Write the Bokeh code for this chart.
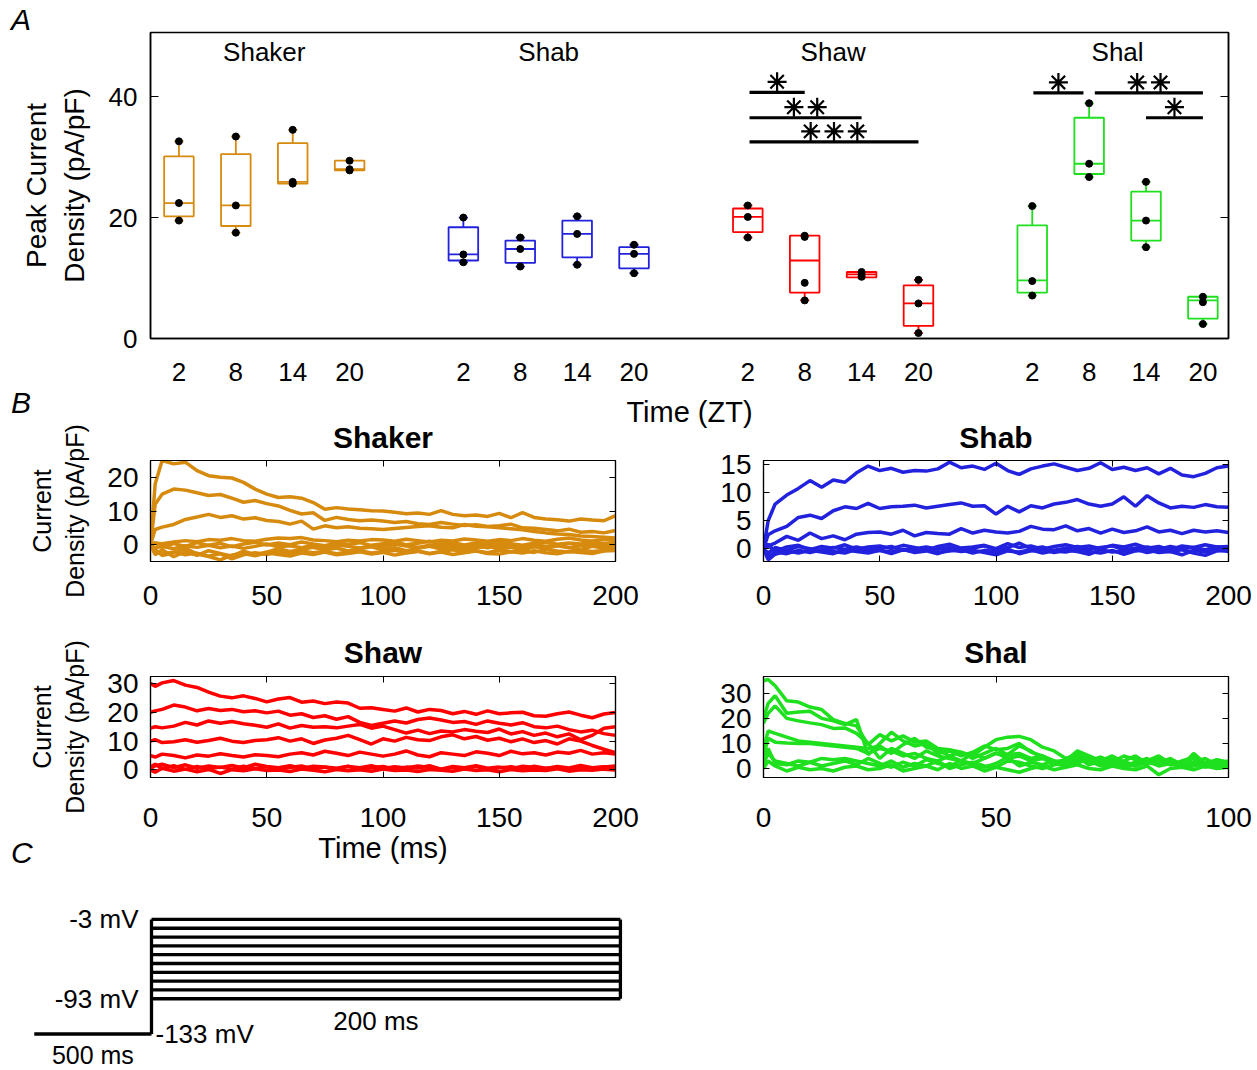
from bokeh.plotting import figure
from bokeh.models import Range1d, FixedTicker, LinearAxis, ColumnDataSource, Div, Spacer
from bokeh.layouts import column, row
from bokeh.embed import file_html
from bokeh.resources import INLINE
from bokeh.core.properties import value

FONT = "Liberation Sans"
INK = "black"

# ---------------- Panel A data ----------------
CHANNELS = ["Shaker", "Shab", "Shaw", "Shal"]
ZT_LABELS = ["2", "8", "14", "20"]
COLORS = {"Shaker": "#D68A0E", "Shab": "#2222DE", "Shaw": "#FF0000", "Shal": "#1EE01E"}

# box stats per ZT (2, 8, 14, 20): [whisker low, q1, median, q3, whisker high]
BOX_SHAKER = [[19.5, 20.2, 22.4, 30.1, 32.6], [17.5, 18.6, 22.0, 30.5, 33.4],
              [25.6, 25.6, 25.9, 32.3, 34.5], [27.8, 27.8, 28.0, 29.4, 29.4]]
BOX_SHAB = [[12.6, 12.9, 13.9, 18.4, 20.0], [11.9, 12.5, 14.8, 16.2, 16.7],
            [12.2, 13.4, 17.3, 19.5, 20.2], [10.8, 11.6, 14.0, 15.1, 15.5]]
BOX_SHAW = [[16.7, 17.6, 20.1, 21.5, 22.0], [6.3, 7.6, 12.9, 17.0, 17.0],
            [10.1, 10.1, 10.6, 11.0, 11.0], [0.9, 2.1, 5.8, 8.8, 9.7]]
BOX_SHAL = [[7.1, 7.6, 9.6, 18.7, 21.9], [26.7, 27.2, 28.9, 36.5, 38.9],
            [15.1, 16.2, 19.5, 24.3, 25.9], [2.4, 3.3, 6.3, 6.9, 6.9]]

PTS_SHAKER = [[32.6, 22.4, 19.5], [33.4, 22.0, 17.5], [34.5, 25.9, 25.6], [29.4, 28.0, 27.8]]
PTS_SHAB = [[20.0, 13.9, 12.6], [16.7, 14.8, 11.9], [20.2, 17.3, 12.2], [15.5, 14.0, 10.8]]
PTS_SHAW = [[22.0, 20.1, 16.7], [17.0, 16.8, 9.2, 6.3], [11.0, 10.6, 10.2], [9.7, 5.8, 0.9]]
PTS_SHAL = [[21.9, 9.5, 7.1], [38.9, 28.9, 26.7], [25.9, 19.5, 15.1], [6.9, 6.0, 2.4]]

# significance bars (x in box positions)
SIG_X0 = [11.03, 11.03, 11.03, 16.02, 17.1, 18.0]
SIG_X1 = [12.0, 13.0, 14.0, 16.9, 19.0, 19.0]
SIG_Y = [40.7, 36.5, 32.5, 40.6, 40.6, 36.5]
SIG_STARS = [1, 2, 3, 1, 2, 1]

# ---------------- Panel B data ----------------
T200 = [0, 2] + list(range(5, 201, 5))
T100 = [0, 1] + [2.5 * k for k in range(1, 41)]

SHAKER_TRACES = [
    [0, 18, 25, 24, 24.5, 22, 20.5, 20, 19.8, 18.5, 16.5, 15, 14, 14.2, 13.8, 12.5, 10.5, 11, 10.6, 10.4, 10.1, 10, 9.6, 9.2, 9.4, 9.0, 10.1, 9.0, 8.6, 8.8, 8.4, 9.3, 8.0, 9.5, 8.1, 7.6, 7.4, 7.0, 7.6, 7.3, 7.1, 8.6],
    [0, 12, 15, 16.5, 16.2, 15.4, 14.6, 14.9, 13.8, 12.6, 13.1, 12.2, 11.5, 10.2, 9.1, 9.5, 7.2, 8.1, 7.5, 7.1, 7.3, 7.0, 6.6, 6.9, 6.2, 6.0, 6.6, 6.1, 5.7, 5.9, 5.4, 5.6, 6.1, 5.0, 4.9, 4.5, 4.1, 4.6, 3.7, 3.9, 3.5, 4.2],
    [0, 4.5, 5.2, 6.0, 7.5, 8.2, 9.0, 8.1, 8.6, 7.6, 8.0, 7.2, 6.9, 6.1, 7.0, 4.6, 5.6, 5.0, 5.3, 4.9, 4.7, 4.5, 4.8, 5.1, 5.4, 5.6, 5.2, 5.0, 6.0, 5.5, 5.3, 5.0, 4.7, 4.4, 3.9, 3.5, 3.2, 3.0, 2.6, 2.4, 2.2, 2.0],
    [0, 0.5, 0.3, 0.8, 1.2, 0.9, 1.5, 1.3, 1.8, 1.2, 1.0, 1.6, 2.0, 1.8, 2.1, 1.4, 1.2, 0.9, 1.3, 1.1, 1.5, 1.4, 1.0, 1.6, 1.2, 0.8, 1.3, 1.1, 1.7, 1.4, 1.0, 1.5, 1.2, 1.8, 1.3, 1.0, 1.6, 2.0, 1.4, 1.1, 1.5, 1.2],
    [0, -1.0, -0.5, -1.2, -0.3, -0.8, -0.2, -0.9, -0.4, -1.1, -0.5, 0.2, -0.6, -0.3, -0.9, -0.2, -0.7, -0.1, -0.5, -1.0, -0.3, -0.6, 0.1, -0.4, -0.8, -0.2, -0.5, 0.2, -0.6, -0.3, -0.9, -0.1, -0.4, -0.7, 0.0, -0.5, -0.2, -0.8, -0.3, 0.1, -0.4, -0.2],
    [0, -2.0, -2.8, -2.2, -3.0, -2.5, -3.4, -2.7, -4.2, -3.0, -2.4, -2.9, -2.2, -2.6, -1.9, -2.4, -2.0, -2.7, -2.2, -1.8, -2.5, -2.1, -1.7, -2.3, -1.9, -2.6, -2.0, -1.5, -2.2, -1.8, -2.4, -1.6, -2.1, -1.8, -2.3, -1.4, -1.9, -2.2, -1.6, -2.0, -1.7, -1.3],
    [0, -3.0, -1.5, -3.6, -2.0, -3.2, -1.8, -2.6, -3.4, -1.9, -3.0, -2.2, -1.2, -2.0, -1.4, -0.8, -1.6, -1.0, -1.9, -1.2, -0.6, -1.5, -0.9, -1.8, -1.1, -0.5, -1.3, -0.7, -1.6, -1.0, -0.4, -1.2, -0.8, -1.5, -0.6, -1.1, -0.3, -0.9, -1.4, -0.5, -1.0, -0.6],
    [0, 0.5, -0.8, 0.3, -0.5, 0.6, -0.2, 0.4, -0.6, 0.2, 0.7, -0.1, 0.5, 0.0, 0.8, 0.2, -0.3, 0.5, 0.1, 0.6, -0.2, 0.3, 0.7, 0.0, 0.4, 1.0, 0.2, 0.6, -0.1, 0.5, 0.1, 0.7, 0.3, -0.2, 0.4, 0.8, 0.1, 0.5, 0.2, 0.9, 0.3, 0.6],
    [0, -1.5, -3.2, -2.4, -1.0, -2.8, -3.5, -4.5, -3.1, -2.6, -3.3, -2.4, -2.9, -3.4, -2.5, -2.9, -2.2, -3.0, -2.6, -2.1, -2.8, -2.3, -3.1, -2.5, -2.0, -2.7, -2.2, -2.9, -2.4, -1.9, -2.6, -2.8, -2.1, -2.5, -1.8, -2.4, -2.7, -2.0, -2.3, -2.6, -1.9, -1.7],
]

SHAB_TRACES = [
    [0, 5.0, 8.0, 9.6, 10.8, 12.2, 11.0, 12.3, 11.9, 13.6, 14.8, 14.0, 14.4, 13.7, 14.0, 13.9, 14.3, 15.5, 14.5, 14.8, 14.2, 15.3, 14.0, 13.3, 14.3, 14.8, 15.2, 14.6, 14.0, 14.4, 15.4, 14.2, 14.6, 14.0, 14.5, 13.4, 14.4, 13.2, 12.9, 13.5, 14.5, 14.8],
    [0, 2.5, 3.2, 4.0, 5.6, 6.0, 5.4, 6.8, 7.5, 7.2, 8.1, 7.2, 7.5, 7.6, 7.8, 7.3, 7.6, 7.9, 8.2, 7.6, 7.7, 6.2, 7.6, 6.6, 7.7, 7.3, 8.0, 8.3, 8.8, 8.0, 7.6, 8.0, 9.3, 7.6, 9.5, 8.2, 7.3, 7.6, 7.4, 7.9, 7.5, 7.4],
    [0, 0.5, 1.0, 2.2, 1.5, 2.8, 1.8, 2.3, 1.6, 2.6, 2.9, 3.0, 2.6, 3.3, 2.3, 2.9, 2.7, 2.6, 3.6, 2.8, 3.3, 3.0, 2.8, 3.1, 4.0, 3.5, 3.4, 4.1, 3.2, 3.6, 2.8, 3.5, 2.9, 3.2, 3.9, 3.0, 3.3, 2.7, 3.3, 3.0, 3.2, 2.9],
    [0, 0.8, -0.5, 0.3, 0.6, -0.2, 0.4, 0.1, 0.7, -0.1, 0.3, 0.5, 0.0, 0.6, 0.2, -0.3, 0.4, 0.8, 0.1, 0.3, 0.6, 0.0, 0.9, 0.2, 0.5, -0.1, 0.4, 0.7, 0.2, 0.5, 0.0, 0.6, 0.3, 0.8, 0.1, 0.4, -0.2, 0.5, 0.2, 0.7, 0.3, 0.4],
    [0, -1.5, -0.6, -0.9, -0.3, -0.7, -0.2, -0.5, -0.8, -0.1, -0.6, -0.3, -0.9, -0.2, -0.5, -0.1, -0.7, -0.4, -0.2, -0.8, -0.3, -0.6, -0.1, -0.9, -0.4, -0.2, -0.7, -0.3, -0.5, -1.0, -0.2, -0.6, -0.4, -0.1, -0.7, -0.3, -0.5, -0.2, -0.8, -1.2, -0.4, -0.3],
    [0, -0.8, 0.2, -0.3, 0.4, 0.0, -0.4, 0.2, -0.1, 0.3, -0.2, 0.1, 0.4, -0.3, 0.0, 0.3, -0.1, 0.2, -0.4, 0.1, 0.5, -0.2, 0.2, 1.0, 0.0, 0.3, -0.3, 0.1, 0.4, -0.1, 0.2, 0.5, -0.2, 0.1, 0.3, -0.1, 0.4, 0.0, 0.2, -0.2, 0.3, 0.1],
    [0, -2.0, -1.0, -0.4, -0.8, -0.3, -0.6, -0.9, -0.2, -0.5, -0.8, -0.3, -0.6, -0.1, -0.7, -0.4, -0.9, -0.2, -0.5, -0.3, -0.7, -1.1, -0.4, -0.6, -0.2, -0.8, -0.4, -0.6, -0.1, -0.5, -0.8, -0.3, -1.0, -0.4, -0.2, -0.7, -0.5, -1.1, -0.3, -0.6, -0.2, -0.5],
]

SHAW_TRACES = [
    [30.0, 29.0, 30.2, 31.0, 29.4, 28.6, 27.0, 25.6, 25.0, 25.7, 24.8, 23.6, 24.6, 25.1, 23.5, 23.9, 23.0, 23.6, 23.2, 21.4, 21.6, 21.0, 20.4, 21.5, 20.1, 21.0, 20.6, 19.5, 20.3, 19.3, 20.5, 19.5, 19.8, 20.0, 18.8, 18.6, 19.5, 20.1, 19.0, 18.1, 19.4, 19.9],
    [20.0, 20.5, 21.0, 22.5, 21.8, 20.5, 21.3, 20.6, 21.0, 20.2, 20.5, 19.8, 20.4, 19.0, 19.5, 18.2, 18.8, 17.6, 18.5, 16.5, 15.4, 16.2, 17.0, 16.3, 17.5, 18.0, 17.3, 16.5, 16.8, 15.8, 17.0, 16.2, 15.6, 16.4, 15.0, 14.6, 15.2, 14.0, 13.2, 13.8, 12.6, 12.0],
    [14.5, 15.0, 14.6, 15.2, 16.5, 15.6, 17.0, 16.2, 16.8, 16.0, 15.5, 14.8, 16.0, 14.5, 15.4, 14.8, 15.0, 14.6, 15.2, 15.8, 14.5, 15.2, 14.0, 12.8, 13.8, 12.6, 13.5, 13.2, 14.0, 13.4, 13.0, 14.2, 12.5, 13.3, 12.0, 12.8, 11.5, 12.5, 10.5, 12.0, 14.5, 15.0],
    [10.0, 10.5, 9.5, 9.8, 10.5, 9.6, 10.2, 11.0, 10.0, 9.5, 10.2, 10.5, 11.2, 10.0, 10.8, 9.2, 10.4, 11.0, 12.0, 10.5, 9.0, 10.8, 10.0, 11.3, 10.5, 10.2, 11.5, 12.2, 10.8, 11.6, 10.3, 11.0, 9.8, 10.8, 9.5, 10.2, 9.0, 10.8, 10.0, 8.5, 7.2, 6.0],
    [5.0, 4.5, 5.5, 5.0, 4.2, 5.2, 4.8, 5.6, 5.0, 4.5, 5.3, 5.0, 4.6, 5.5, 6.0, 5.2, 6.5, 5.8, 5.0, 6.2, 5.5, 4.8, 5.5, 6.6, 5.2, 4.6, 6.0, 5.5, 5.0, 6.3, 5.8, 5.0, 6.5, 5.6, 6.0, 5.2, 6.2, 5.8, 6.8, 5.5, 6.0, 5.5],
    [1.0, 2.0, 0.5, 1.5, 0.2, 1.2, 0.4, 1.0, 0.3, 1.3, 0.5, 1.1, 0.2, 0.9, 1.4, 0.3, 1.0, 0.6, 1.3, 0.2, 0.8, 1.2, 0.4, 1.0, 0.7, 1.5, 0.3, 0.9, 0.5, 1.2, 0.2, 0.8, 1.1, 0.4, 1.3, 0.6, 0.9, 0.3, 1.2, 0.5, 1.0, 1.4],
    [0.0, -0.8, 0.6, -0.4, 0.3, -0.6, 0.2, -1.2, 0.1, -0.3, 0.4, -0.2, 0.0, -0.5, 0.3, -0.1, -0.6, 0.2, -0.3, 0.1, -0.4, 0.3, -0.2, 0.0, -0.5, 0.2, -0.1, -0.4, 0.3, -0.2, 0.1, -0.6, 0.2, -0.3, 0.0, -0.2, 0.4, -0.4, 0.1, -0.1, 0.3, 0.0],
    [0.5, 1.5, 2.0, 0.8, 1.8, 0.6, 1.4, 0.9, 1.6, 0.7, 2.0, 1.2, 0.8, 1.5, 0.6, 1.3, 1.0, 0.4, 1.2, 0.8, 1.5, 0.5, 1.1, 0.7, 1.4, 0.9, 0.3, 1.2, 0.8, 1.5, 0.6, 1.0, 0.4, 1.3, 0.9, 0.5, 1.2, 0.7, 1.6, 0.8, 1.1, 0.9],
]

SHAL_TRACES = [
    [35.0, 35.5, 33.0, 27.0, 26.5, 24.5, 23.5, 19.5, 18.0, 17.0, 9.5, 13.5, 11.0, 13.0, 10.5, 11.0, 8.0, 7.5, 6.5, 5.0, 8.5, 11.5, 12.5, 12.8, 11.5, 8.5, 7.0, 4.0, 5.5, 3.0, 4.5, 2.5, 5.0, 3.5, 2.0, 4.0, 1.5, 3.0, 4.5, 2.0, 3.5, 2.5],
    [20.0, 26.0, 29.0, 22.0, 22.5, 22.8, 20.0, 19.0, 17.5, 19.5, 5.5, 10.0, 14.5, 11.0, 9.0, 10.0, 6.0, 7.0, 5.0, 6.5, 9.0, 7.5, 8.0, 10.0, 6.5, 5.0, 3.0, 2.5, 4.5, 1.5, 3.0, 5.0, 2.5, 1.0, 3.5, 2.0, 4.0, 1.5, 2.5, 0.5, 2.0, 1.5],
    [18.0, 22.0, 25.0, 20.0, 19.0, 18.2, 17.5, 16.0, 16.2, 14.0, 10.0, 4.0, 8.0, 6.0, 4.0, 7.0, 5.0, 4.0, 3.0, 6.0, 4.0, 6.2, 4.0, 5.0, 3.0, 4.0, 2.0, 1.0, 3.0, 5.0, 2.0, 3.5, 1.0, 2.5, 4.0, 1.5, 3.0, 0.5, 2.0, 1.0, 3.5, 1.0],
    [8.0, 15.0, 14.0, 12.5, 11.0, 10.5, 10.0, 9.5, 9.0, 8.5, 8.0, 9.0, 6.0, 9.5, 12.0, 8.5, 7.5, 5.0, 6.5, 4.0, 6.0, 8.0, 5.5, 9.0, 7.0, 4.0, 2.5, 3.5, 6.5, 3.0, 4.5, 2.0, 3.0, 5.0, 2.0, 3.5, 1.5, 2.5, 4.0, 1.0, 2.0, 3.0],
    [5.0, 12.0, 10.5, 10.2, 10.0, 10.0, 9.5, 9.0, 8.5, 8.0, 6.0, 8.0, 7.0, 5.0, 6.0, 4.0, 3.0, 5.0, 3.0, 2.0, 4.0, 6.0, 5.5, 6.0, 4.0, 5.0, 2.0, 3.0, 7.0, 5.0, 3.0, 4.5, 2.5, 1.5, 3.0, 5.0, 2.0, 1.0, 2.5, 4.0, 1.5, 2.0],
    [2.0, 6.0, 3.0, 2.0, 1.0, 2.5, 4.0, 3.5, 4.0, 3.0, 2.0, 1.0, 3.0, 0.5, 2.0, 1.0, 3.0, 0.0, 1.5, 2.5, 1.0, 0.5, 3.0, 2.5, 1.0, 0.0, 1.5, 2.0, 4.0, 3.0, 1.0, 2.0, 0.5, 1.5, 3.0, 1.0, 2.0, 0.5, 1.0, 2.5, 0.5, 1.0],
    [0.0, 3.0, 1.0, -1.0, 0.5, -0.5, 0.0, -1.0, 0.5, 1.0, -0.5, 0.0, 1.5, -1.0, 0.0, 1.0, -0.5, 2.0, 0.0, 1.0, -1.0, 0.5, -0.5, -1.5, 0.0, 1.0, -0.5, 0.5, 1.5, 0.0, -0.5, 1.0, 0.0, -0.5, 1.0, -2.5, 0.0, 0.5, -0.5, 1.0, 0.0, 0.5],
    [1.0, 8.0, 2.0, 1.5, 3.0, 2.5, 1.0, 2.0, 3.0, 1.5, 4.0, 2.0, 0.5, 2.5, 1.0, 3.5, 2.0, 1.0, 3.0, 1.5, 0.5, 2.0, 4.5, 1.0, 2.5, 1.5, 3.0, 1.0, 2.0, 4.0, 1.5, 3.0, 2.0, 1.0, 2.5, 1.5, 3.5, 1.0, 6.0, 2.0, 1.0, 2.5],
]

# ---------------- Panel C data ----------------
STEP_LEVELS_MV = [-3, -13, -23, -33, -43, -53, -63, -73, -83, -93]
HOLD_MV = -133
STEP_MS = 200
HOLD_SPAN = [-50, 0]   # schematic (compressed) extent of the 500 ms pre-pulse

# ================= Panel A =================
BW, CW = 0.26, 0.08
STAR_GAP, STAR_RAISE = 0.41, 1.75

pA = figure(width=1257, height=432, x_range=Range1d(0.5, 19.45), y_range=Range1d(0, 50.6),
            output_backend="svg", toolbar_location=None,
            min_border_left=150, min_border_right=29, min_border_top=32, min_border_bottom=94,
            outline_line_color="black", outline_line_width=1.5, border_fill_color=None)
pA.grid.visible = False

BOXES = [BOX_SHAKER, BOX_SHAB, BOX_SHAW, BOX_SHAL]
POINTS = [PTS_SHAKER, PTS_SHAB, PTS_SHAW, PTS_SHAL]
pos, col, lo, q1, med, q3, hi, px, py = [], [], [], [], [], [], [], [], []
labels_map = {}
for g, ch in enumerate(CHANNELS):
    for i in range(4):
        x = g * 5 + i + 1
        b = BOXES[g][i]
        pos.append(x); col.append(COLORS[ch])
        lo.append(b[0]); q1.append(b[1]); med.append(b[2]); q3.append(b[3]); hi.append(b[4])
        labels_map[x] = ZT_LABELS[i]
        for v in POINTS[g][i]:
            px.append(x); py.append(v)

src = ColumnDataSource(dict(x=pos, color=col, lo=lo, q1=q1, med=med, q3=q3, hi=hi,
                            left=[x - BW for x in pos], right=[x + BW for x in pos],
                            cl=[x - CW for x in pos], cr=[x + CW for x in pos]))
LW = 1.8
pA.segment(x0="x", y0="q3", x1="x", y1="hi", line_color="color", line_width=LW, source=src)
pA.segment(x0="x", y0="lo", x1="x", y1="q1", line_color="color", line_width=LW, source=src)
pA.segment(x0="cl", y0="hi", x1="cr", y1="hi", line_color="color", line_width=LW, source=src)
pA.segment(x0="cl", y0="lo", x1="cr", y1="lo", line_color="color", line_width=LW, source=src)
pA.quad(left="left", right="right", bottom="q1", top="q3", fill_color=None,
        line_color="color", line_width=LW, source=src)
pA.segment(x0="left", y0="med", x1="right", y1="med", line_color="color", line_width=LW, source=src)
pA.scatter(px, py, size=7, color="black")

gx = [sum(pos[g * 4:(g + 1) * 4]) / 4 for g in range(4)]
pA.text(x=gx, y=[47.3] * 4, text=CHANNELS, text_align="center", text_baseline="middle",
        text_font=value(FONT), text_font_size="26px", text_color=INK)

pA.segment(x0=SIG_X0, y0=SIG_Y, x1=SIG_X1, y1=SIG_Y, line_color="black", line_width=3.2)
sx, sy = [], []
for x0, x1, y, n in zip(SIG_X0, SIG_X1, SIG_Y, SIG_STARS):
    mid = (x0 + x1) / 2
    for k in range(n):
        sx.append(mid + (k - (n - 1) / 2) * STAR_GAP)
        sy.append(y + STAR_RAISE)
pA.scatter(sx, sy, marker="asterisk", size=19, line_color="black", line_width=2.2)
pA.scatter(sx, sy, size=4, color="black")

xa = pA.xaxis[0]
xa.ticker = FixedTicker(ticks=pos)
xa.major_label_overrides = labels_map
xa.major_tick_line_color = None
xa.minor_tick_line_color = None
xa.axis_line_color = "black"; xa.axis_line_width = 1.5
xa.major_label_text_font = FONT; xa.major_label_text_font_size = "26px"
xa.major_label_text_color = INK
xa.major_label_standoff = 18
xa.axis_label = "Time (ZT)"
xa.axis_label_text_font = FONT; xa.axis_label_text_font_size = "29px"
xa.axis_label_text_color = INK
xa.axis_label_text_font_style = "normal"; xa.axis_label_standoff = 12

ya = pA.yaxis[0]
ya.ticker = FixedTicker(ticks=[0, 20, 40])
ya.major_tick_in = 8; ya.major_tick_out = 0
ya.minor_tick_line_color = None
ya.axis_line_color = "black"; ya.axis_line_width = 1.5
ya.major_label_text_font = FONT; ya.major_label_text_font_size = "26px"
ya.major_label_text_color = INK
ya.major_label_standoff = 13
ya.axis_label = "Peak Current\nDensity (pA/pF)"
ya.axis_label_text_font = FONT; ya.axis_label_text_font_size = "28px"
ya.axis_label_text_color = INK
ya.axis_label_text_font_style = "normal"; ya.axis_label_standoff = 16


def mirror_axis(ticks, tick_len, lw):
    return LinearAxis(ticker=FixedTicker(ticks=ticks), major_label_text_font_size="1px",
                      major_label_text_color=None, major_tick_in=tick_len, major_tick_out=0,
                      minor_tick_line_color=None, major_label_standoff=0, axis_line_width=lw,
                      axis_line_color="black", major_tick_line_color="black")


pA.add_layout(mirror_axis([0, 20, 40], 8, 1.5), "right")


# ================= Panel B =================
def trace_panel(title, t, traces, color, xr, yr, xticks, yticks, width, height, borders,
                ylabel=None, xlabel=None, x_standoff=24, title_standoff=13):
    bl, br, bt, bb = borders
    p = figure(width=width, height=height, x_range=Range1d(*xr), y_range=Range1d(*yr),
               output_backend="svg", toolbar_location=None,
               min_border_left=bl, min_border_right=br, min_border_top=bt, min_border_bottom=bb,
               border_fill_color=None, outline_line_color="black", outline_line_width=1.2)
    p.grid.visible = False
    p.multi_line(xs=[list(t)] * len(traces), ys=traces, line_color=color, line_width=3.5)
    p.title.text = title
    p.title.align = "center"
    p.title.text_font = FONT
    p.title.text_font_size = "30px"
    p.title.text_font_style = "bold"
    p.title.text_color = INK
    p.title.standoff = title_standoff
    for ax, ticks in ((p.xaxis[0], xticks), (p.yaxis[0], yticks)):
        ax.ticker = FixedTicker(ticks=ticks)
        ax.major_tick_in = 6; ax.major_tick_out = 0
        ax.minor_tick_line_color = None
        ax.axis_line_color = "black"; ax.axis_line_width = 1.2
        ax.major_tick_line_color = "black"
        ax.major_label_text_font = FONT; ax.major_label_text_font_size = "28px"
        ax.major_label_text_color = INK
    p.xaxis[0].major_label_standoff = x_standoff
    p.yaxis[0].major_label_standoff = 12
    if ylabel:
        p.yaxis[0].axis_label = ylabel
        p.yaxis[0].axis_label_text_font = FONT
        p.yaxis[0].axis_label_text_font_size = "25px"
        p.yaxis[0].axis_label_text_color = INK
        p.yaxis[0].axis_label_text_font_style = "normal"
        p.yaxis[0].axis_label_standoff = 15
    if xlabel:
        p.xaxis[0].axis_label = xlabel
        p.xaxis[0].axis_label_text_font = FONT
        p.xaxis[0].axis_label_text_font_size = "29px"
        p.xaxis[0].axis_label_text_color = INK
        p.xaxis[0].axis_label_text_font_style = "normal"
        p.xaxis[0].axis_label_standoff = 2
    p.add_layout(mirror_axis(xticks, 6, 1.2), "above")
    p.add_layout(mirror_axis(yticks, 6, 1.2), "right")
    return p


YLAB = "Current\nDensity (pA/pF)"
T_TICKS = [0, 50, 100, 150, 200]
pShaker = trace_panel("Shaker", T200, SHAKER_TRACES, COLORS["Shaker"], (0, 200), (-5, 25),
                      T_TICKS, [0, 10, 20], 690, 224, (150, 75, 50, 73), ylabel=YLAB,
                      x_standoff=24, title_standoff=14)
pShab = trace_panel("Shab", T200, SHAB_TRACES, COLORS["Shab"], (0, 200), (-2.3, 15.8),
                    T_TICKS, [0, 5, 10, 15], 567, 224, (73, 29, 50, 73),
                    x_standoff=24, title_standoff=14)
pShaw = trace_panel("Shaw", T200, SHAW_TRACES, COLORS["Shaw"], (0, 200), (-2.6, 32.4),
                    T_TICKS, [0, 10, 20, 30], 690, 249, (150, 75, 50, 98), ylabel=YLAB,
                    xlabel="Time (ms)", x_standoff=30, title_standoff=15)
pShal = trace_panel("Shal", T100, SHAL_TRACES, COLORS["Shal"], (0, 100), (-3.6, 36.7),
                    [0, 50, 100], [0, 10, 20, 30], 567, 249, (73, 29, 50, 98),
                    x_standoff=30, title_standoff=15)

# ================= Panel C =================
pC = figure(width=660, height=194, x_range=Range1d(-64.4, 217.1), y_range=Range1d(-173.3, 46.9),
            output_backend="svg", toolbar_location=None, x_axis_type=None, y_axis_type=None,
            min_border=0, outline_line_color=None, border_fill_color=None)
pC.grid.visible = False
LWC = 3.3
pC.line(HOLD_SPAN, [HOLD_MV, HOLD_MV], line_color="black", line_width=LWC)
pC.segment(x0=[0], y0=[HOLD_MV], x1=[0], y1=[max(STEP_LEVELS_MV)], line_color="black", line_width=LWC)
pC.segment(x0=[0] * len(STEP_LEVELS_MV), y0=STEP_LEVELS_MV, x1=[STEP_MS] * len(STEP_LEVELS_MV),
           y1=STEP_LEVELS_MV, line_color="black", line_width=LWC)
pC.segment(x0=[STEP_MS], y0=[min(STEP_LEVELS_MV)], x1=[STEP_MS], y1=[max(STEP_LEVELS_MV)],
           line_color="black", line_width=LWC)
fs = "26px"
pC.text(x=[0, 0], y=[max(STEP_LEVELS_MV), min(STEP_LEVELS_MV)],
        text=[f"{max(STEP_LEVELS_MV)} mV", f"{min(STEP_LEVELS_MV)} mV"],
        text_align="right", text_baseline="middle", x_offset=-13,
        text_font=value(FONT), text_font_size=fs, text_color=INK)
pC.text(x=[0], y=[HOLD_MV], text=[f"{HOLD_MV} mV"], text_align="left", text_baseline="middle",
        x_offset=4, text_font=value(FONT), text_font_size=fs, text_color=INK)
pC.text(x=[STEP_MS / 2], y=[min(STEP_LEVELS_MV)], text=[f"{STEP_MS} ms"], text_align="center",
        text_baseline="middle", x_offset=-10, y_offset=22, text_font=value(FONT),
        text_font_size=fs, text_color=INK)
pC.text(x=[sum(HOLD_SPAN) / 2], y=[HOLD_MV], text=["500 ms"], text_align="center",
        text_baseline="middle", y_offset=21, text_font=value(FONT), text_font_size="25px",
        text_color=INK)


# ================= panel letters =================
def letter(txt, margin):
    return Div(text=txt, width=30, height=30, margin=margin,
               styles={"font-family": FONT, "font-size": "30px", "font-style": "italic",
                       "line-height": "30px", "color": "black"})


divA = letter("A", (5, 0, -35, 11))
divB = letter("B", (-44, 0, 14, 11))
divC = letter("C", (-37, 0, 7, 11))

rowB1 = row(pShaker, pShab, margin=(-22, 0, 0, 0))
rowB2 = row(pShaw, pShal, margin=(-8, 0, 0, 0))
rowC = row(Spacer(width=0, height=194), pC, Spacer(width=0, height=194))
layout = column(divA, pA, divB, rowB1, rowB2, divC, rowC)

open("out.html", "w").write(file_html(layout, INLINE))
